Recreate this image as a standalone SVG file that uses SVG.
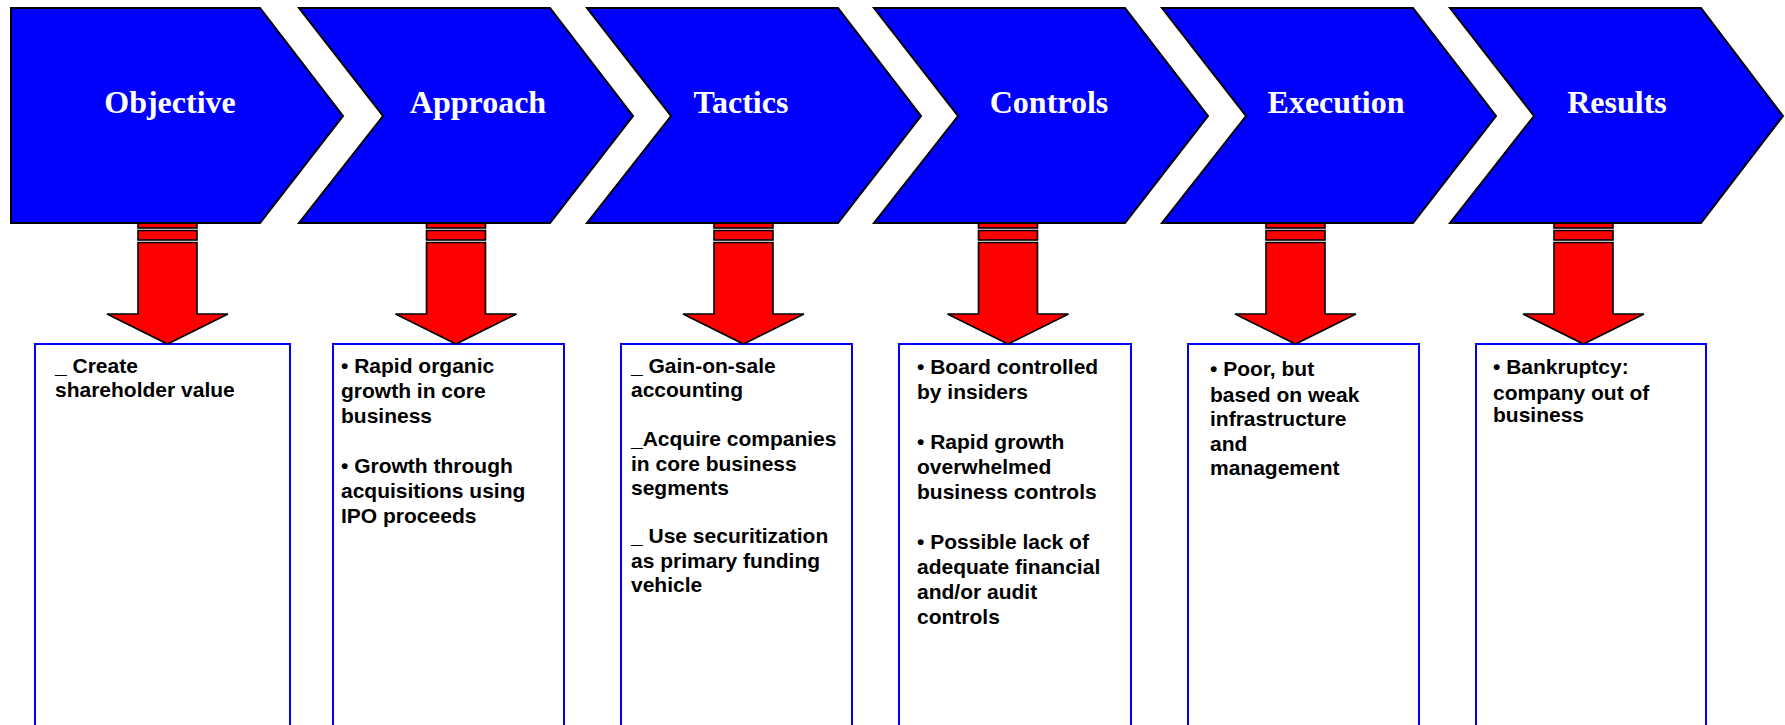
<svg xmlns="http://www.w3.org/2000/svg" width="1785" height="725" viewBox="0 0 1785 725">
<style>
.chev{fill:#0000FF;stroke:#000;stroke-width:2;stroke-linejoin:miter}
.title{font-family:"Liberation Serif","Times New Roman",serif;font-weight:bold;font-size:32px;fill:#fff;text-anchor:middle}
.box{fill:#fff;stroke:#0000FF;stroke-width:2}
.txt{font-family:"Liberation Sans",Arial,sans-serif;font-weight:bold;font-size:21px;fill:#000}
.arr{fill:#FF0000;stroke:#000;stroke-width:1.6;stroke-linejoin:miter}
</style>
<rect width="1785" height="725" fill="#fff"/>
<defs>
<g id="arrow">
<rect class="arr" x="-29.5" y="223" width="59" height="5"/>
<rect class="arr" x="-29.5" y="230.5" width="59" height="9.5"/>
<polygon class="arr" points="-29.5,242.5 29.5,242.5 29.5,314 60.5,314 0,344 -60.5,314 -29.5,314"/>
</g>
</defs>

<g id="box-objective"><rect class="box" x="35" y="344" width="255" height="400"/>
<text class="txt"><tspan x="55" y="372.5">_ Create</tspan><tspan x="55" y="397">shareholder value</tspan></text></g>

<g id="box-approach"><rect class="box" x="333" y="344" width="231" height="400"/>
<text class="txt"><tspan x="341" y="373">• Rapid organic</tspan><tspan x="341" y="398">growth in core</tspan><tspan x="341" y="423">business</tspan><tspan x="341" y="473">• Growth through</tspan><tspan x="341" y="498">acquisitions using</tspan><tspan x="341" y="523">IPO proceeds</tspan></text></g>

<g id="box-tactics"><rect class="box" x="621" y="344" width="231" height="400"/>
<text class="txt"><tspan x="631" y="372.7">_ Gain-on-sale</tspan><tspan x="631" y="397">accounting</tspan><tspan x="631" y="446">_Acquire companies</tspan><tspan x="631" y="470.5">in core business</tspan><tspan x="631" y="495">segments</tspan><tspan x="631" y="543">_ Use securitization</tspan><tspan x="631" y="567.5">as primary funding</tspan><tspan x="631" y="592">vehicle</tspan></text></g>

<g id="box-controls"><rect class="box" x="899" y="344" width="232" height="400"/>
<text class="txt"><tspan x="917" y="374">• Board controlled</tspan><tspan x="917" y="399">by insiders</tspan><tspan x="917" y="449">• Rapid growth</tspan><tspan x="917" y="474">overwhelmed</tspan><tspan x="917" y="499">business controls</tspan><tspan x="917" y="549">• Possible lack of</tspan><tspan x="917" y="574">adequate financial</tspan><tspan x="917" y="599">and/or audit</tspan><tspan x="917" y="624">controls</tspan></text></g>

<g id="box-execution"><rect class="box" x="1188" y="344" width="231" height="400"/>
<text class="txt"><tspan x="1210" y="375.5">• Poor, but</tspan><tspan x="1210" y="401.5">based on weak</tspan><tspan x="1210" y="426">infrastructure</tspan><tspan x="1210" y="451">and</tspan><tspan x="1210" y="475">management</tspan></text></g>

<g id="box-results"><rect class="box" x="1476" y="344" width="230" height="400"/>
<text class="txt"><tspan x="1493" y="373.5">• Bankruptcy:</tspan><tspan x="1493" y="400">company out of</tspan><tspan x="1493" y="422">business</tspan></text></g>

<g id="connectors">
<use href="#arrow" x="167.5"/>
<use href="#arrow" x="456"/>
<use href="#arrow" x="743.5"/>
<use href="#arrow" x="1008"/>
<use href="#arrow" x="1295.5"/>
<use href="#arrow" x="1583.5"/>
</g>

<g id="chev-objective"><polygon class="chev" points="11,8 260,8 343,116 260,223 11,223"/><text class="title" x="170" y="113">Objective</text></g>
<g id="chev-approach"><polygon class="chev" points="299,8 550,8 633,116 550,223 299,223 383,116"/><text class="title" x="478" y="113">Approach</text></g>
<g id="chev-tactics"><polygon class="chev" points="587,8 838,8 921,116 838,223 587,223 671,116"/><text class="title" x="741" y="113">Tactics</text></g>
<g id="chev-controls"><polygon class="chev" points="874,8 1125,8 1208,116 1125,223 874,223 958,116"/><text class="title" x="1049" y="113">Controls</text></g>
<g id="chev-execution"><polygon class="chev" points="1162,8 1413,8 1496,116 1413,223 1162,223 1246,116"/><text class="title" x="1336" y="113">Execution</text></g>
<g id="chev-results"><polygon class="chev" points="1450,8 1701,8 1783,116 1701,223 1450,223 1534,116"/><text class="title" x="1617" y="113">Results</text></g>
</svg>
